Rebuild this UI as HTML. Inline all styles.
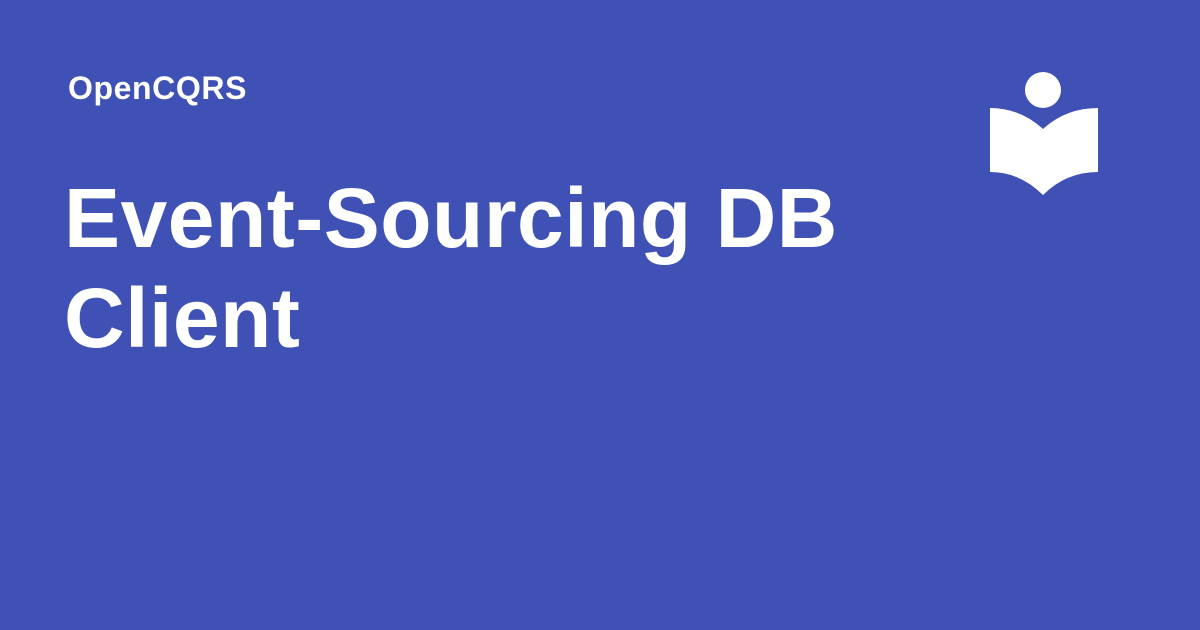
<!DOCTYPE html>
<html><head><style>
body{margin:0;width:1200px;height:630px;background:#3f51b5;overflow:hidden;position:relative;font-family:"Liberation Sans",sans-serif;color:#fff;font-weight:bold}
.s{position:absolute;left:68px;top:70px;font-size:32px;letter-spacing:0.6px}
.t{position:absolute;left:64px;top:168px;font-size:84px;line-height:100px;letter-spacing:0.5px}
svg{position:absolute;left:0;top:0}
</style></head><body>
<div class="s">OpenCQRS</div>
<div class="t">Event-Sourcing DB<br>Client</div>
<svg width="1200" height="630"><circle cx="1043" cy="90" r="18" fill="#fff"/>
<path d="M990 108 Q1020 108 1043 129 Q1066 108 1098 108 L1098 172 Q1066 172 1043 195 Q1020 172 990 172 Z" fill="#fff"/></svg>
</body></html>
